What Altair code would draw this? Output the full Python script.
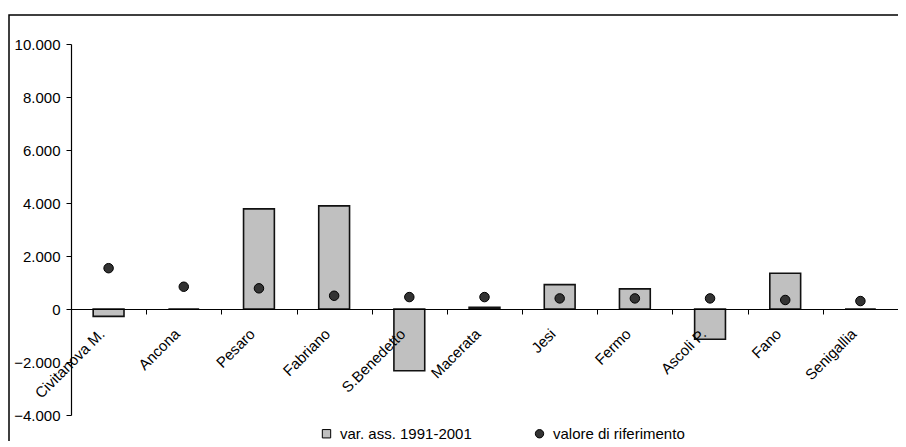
import altair as alt
import pandas as pd

cities = ["Civitanova M.", "Ancona", "Pesaro", "Fabriano", "S.Benedetto", "Macerata",
          "Jesi", "Fermo", "Ascoli P.", "Fano", "Senigallia"]
var_ass = [-280, 0, 3780, 3890, -2330, 60, 920, 760, -1140, 1350, 0]
valore_rif = [1540, 840, 780, 500, 450, 450, 400, 400, 400, 340, 300]
series_names = ["var. ass. 1991-2001", "valore di riferimento"]
y_ticks = [-4000, -2000, 0, 2000, 4000, 6000, 8000, 10000]

rows = []
for c, v in zip(cities, var_ass):
    rows.append({"city": c, "value": v, "series": series_names[0]})
for c, v in zip(cities, valore_rif):
    rows.append({"city": c, "value": v, "series": series_names[1]})
df = pd.DataFrame(rows)

FONT = "Liberation Sans"
W, H = 827, 371

x_enc = alt.X("city:N", sort=cities, title=None,
              scale=alt.Scale(paddingInner=0, paddingOuter=0),
              axis=alt.Axis(orient="bottom", offset=-106, labelAngle=-45,
                            labelAlign="right", labelBaseline="middle",
                            labelPadding=17, labelOffset=-7,
                            tickBand="extent", tickSize=5, grid=False,
                            domainColor="black", domainWidth=1.2, tickColor="black",
                            labelColor="black", labelFont=FONT, labelFontSize=15,
                            zindex=1))
y_enc = alt.Y("value:Q", title=None,
              scale=alt.Scale(domain=[-4000, 10000], nice=False, zero=False),
              axis=alt.Axis(values=y_ticks, grid=False, tickSize=5,
                            domain=True, domainColor="black", domainWidth=1.2,
                            tickColor="black",
                            labelColor="black", labelFont=FONT, labelFontSize=15,
                            labelPadding=6, zindex=1,
                            labelExpr="replace(format(datum.value, ','), ',', '.')"))

bars = alt.Chart(df).transform_filter(
    alt.datum.series == series_names[0]
).mark_bar(color="#c0c0c0", stroke="#111111", strokeWidth=1.6,
           width=alt.RelativeBandSize(0.41)).encode(x=x_enc, y=y_enc)

points = alt.Chart(df).transform_filter(
    alt.datum.series == series_names[1]
).mark_point(filled=True, size=90, stroke="black", strokeWidth=1, opacity=1).encode(
    x=x_enc,
    y=y_enc,
    color=alt.Color("series:N", title=None,
                    scale=alt.Scale(domain=series_names, range=["#c0c0c0", "#333333"]),
                    legend=alt.Legend(orient="none", direction="horizontal",
                                      legendX=248, legendY=382, columnPadding=60,
                                      labelFont=FONT, labelFontSize=15,
                                      labelColor="black", symbolSize=70,
                                      symbolStrokeColor="black", symbolStrokeWidth=1,
                                      labelOffset=6, padding=0)),
    shape=alt.Shape("series:N", title=None,
                    scale=alt.Scale(domain=series_names, range=["square", "circle"])),
)

border = alt.Chart(alt.Data(values=[{}])).mark_rect(
    fill="transparent", stroke="black", strokeWidth=1.5
).encode(x=alt.value(-62), y=alt.value(-29), x2=alt.value(2000), y2=alt.value(2000))

chart = alt.layer(border, bars, points).properties(
    width=W, height=H,
    background="white",
    padding={"left": 63, "top": 36, "right": 0, "bottom": 26},
    autosize=alt.AutoSizeParams(type="none"),
).configure_view(strokeWidth=0, stroke="transparent").configure_axis(grid=False)

chart.save("out.html", embed_options={"renderer": "svg", "actions": False})
